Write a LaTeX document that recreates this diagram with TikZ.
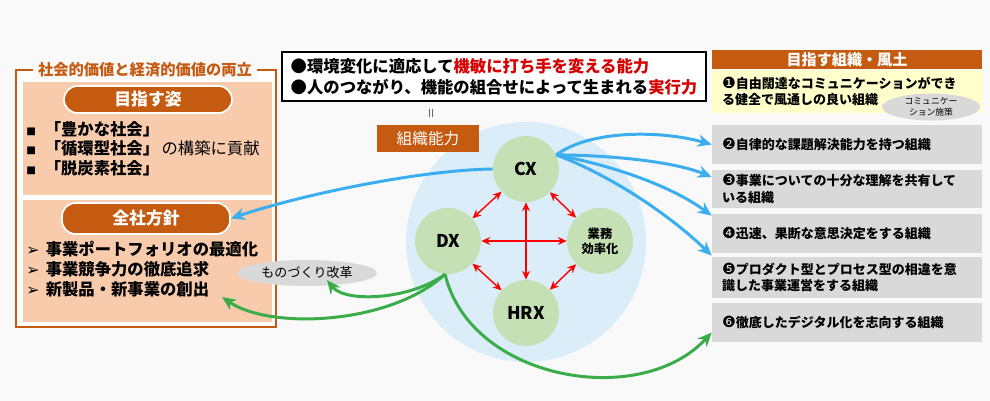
\documentclass[tikz,border=0pt]{standalone}
\usepackage{fontspec}
\setmainfont{Noto Sans CJK JP}
\newfontfamily\dingfont{DejaVu Sans}
\usetikzlibrary{arrows.meta,positioning,calc,shapes.geometric}
\definecolor{paper}{HTML}{F9F9F9}
\definecolor{rust}{HTML}{C55A11}
\definecolor{peach}{HTML}{F8CBAD}
\definecolor{ice}{HTML}{DAEDF8}
\definecolor{leaf}{HTML}{C5E0B4}
\definecolor{sky}{HTML}{3AAEEF}
\definecolor{grass}{HTML}{3AAD4A}
\definecolor{mist}{HTML}{D9D9D9}
\definecolor{cream}{HTML}{FFFFCC}
\definecolor{alert}{HTML}{D60000}
\newcommand{\jsize}[2]{\fontsize{#1}{#2}\selectfont}
\newcommand{\sqmark}{{\jsize{5.5}{6}■}\hspace{5pt}}
\newcommand{\chevmark}{{\dingfont\mdseries\jsize{9}{10}➢}\hspace{3.5pt}}
\newcommand{\num}[1]{{\dingfont\mdseries\jsize{8.8}{9.6}#1}}

\begin{document}
\begin{tikzpicture}[x=0.02cm,y=-0.02cm,>=Stealth,
  pill/.style={fill=rust,draw=white,line width=1pt,rounded corners=0.27cm,minimum width=3.36cm,
    minimum height=0.54cm,inner sep=0pt,text=white,font=\jsize{9.6}{11}\bfseries},
  item/.style={anchor=west,inner sep=0pt,font=\jsize{9.3}{11}\bfseries},
  core/.style={circle,fill=leaf,minimum size=1.32cm,inner sep=0pt,font=\jsize{10}{12}\bfseries},
  orgbox/.style={fill=mist,minimum width=5.4cm,text width=5.0cm,inner xsep=0.2cm,inner ysep=0pt,
    align=left,font=\jsize{7.4}{9.6}\bfseries},
  tag/.style={ellipse,fill=mist,inner sep=0pt},
  redlink/.style={{Stealth[length=5pt,width=4.5pt]}-{Stealth[length=5pt,width=4.5pt]},red,line width=0.8pt},
  bluelink/.style={-{Stealth[length=8pt,width=7pt]},sky,line width=1.7pt},
  greenlink/.style={-{Stealth[length=8pt,width=7pt]},grass,line width=1.7pt}]
  \useasboundingbox[fill=paper] (0,0) rectangle (990,401);

  % left column
  \draw[rust,line width=1.6pt,fill=white] (16,70) rectangle (276,327);
  \node[fill=paper,text=rust,font=\jsize{8.7}{10}\bfseries,inner xsep=3pt,inner ysep=1pt] (goal) at (145,70) {社会的価値と経済的価値の両立};
  \fill[peach] (23,82) rectangle (272,195);
  \fill[peach] (23,200) rectangle (272,322);
  \node[pill] (vision) at (148,99.5) {目指す姿};
  \node[item] (v1) at (26,129) {\sqmark「豊かな社会」};
  \node[item] (v2) at (26,148) {\sqmark「循環型社会」\mdseries\hspace{0.15em}の構築に貢献};
  \node[item] (v3) at (26,168) {\sqmark「脱炭素社会」};
  \node[pill,minimum height=0.62cm] (policy) at (146,218.5) {全社方針};
  \node[item] (p1) at (26,249) {\chevmark 事業ポートフォリオの最適化};
  \node[item] (p2) at (26,269) {\chevmark 事業競争力の徹底追求};
  \node[item] (p3) at (26,289) {\chevmark 新製品・新事業の創出};
  \coordinate (policyend) at (222,297);

  % centre
  \node[draw=black,line width=1.3pt,fill=white,minimum width=8.48cm,minimum height=0.98cm,
    align=left,inner sep=2pt,font=\jsize{9.3}{12}\bfseries] (ability) at (494,76.5)
    {●環境変化に適応して\textcolor{alert}{機敏に打ち手を変える能力}\\●人のつながり、機能の組合せによって生まれる\textcolor{alert}{実行力}};
  \draw[black!60,line width=0.5pt] (429,109) -- (429,117) (432,109) -- (432,117);
  \node[circle,fill=ice,minimum size=4.8cm] (sphere) at (526,242) {};
  \node[fill=rust,text=white,minimum width=2.04cm,minimum height=0.54cm,inner sep=0pt,
    font=\jsize{8.9}{10}] (capab) at (428,139) {組織能力};
  \node[core] (cx) at (526,169) {CX};
  \node[core] (dx) at (448,241) {DX};
  \node[core,align=center,font=\jsize{7}{8.5}\bfseries] (biz) at (600,241) {業務\\効率化};
  \node[core] (hrx) at (526,313) {HRX};
  \draw[redlink] (cx) -- (dx);
  \draw[redlink] (cx) -- (biz);
  \draw[redlink] (dx) -- (hrx);
  \draw[redlink] (biz) -- (hrx);
  \draw[redlink] (dx) -- (biz);
  \draw[redlink] (cx) -- (hrx);
  \node[tag,minimum width=2.8cm,minimum height=0.52cm,font=\jsize{7.4}{9}] (mono) at (307,273) {ものづくり改革};
  \coordinate (monoend) at ($(mono.center)+(20,7)$);

  % right column
  \node[fill=rust,text=white,minimum width=5.4cm,minimum height=0.38cm,inner sep=0pt,
    font=\jsize{8.6}{10}\bfseries] (culture) at (847,59.5) {目指す組織・風土};
  \node[orgbox,fill=cream,minimum height=0.86cm] (o1) at (847,91.5)
    {\num{❶}自由闊達なコミュニケーションができ\\る健全で風通しの良い組織};
  \node[tag,minimum width=1.96cm,minimum height=0.54cm,align=center,font=\jsize{5}{6.5}] (comm) at (931,107) {コミュニケー\\ション施策};
  \node[orgbox,minimum height=0.78cm] (o2) at (847,144.5) {\num{❷}自律的な課題解決能力を持つ組織};
  \node[orgbox,minimum height=0.76cm] (o3) at (847,189) {\num{❸}事業についての十分な理解を共有して\\いる組織};
  \node[orgbox,minimum height=0.78cm] (o4) at (847,233.5) {\num{❹}迅速、果断な意思決定をする組織};
  \node[orgbox,minimum height=0.82cm] (o5) at (847,277.5) {\num{❺}プロダクト型とプロセス型の相違を意\\識した事業運営をする組織};
  \node[orgbox,minimum height=0.78cm] (o6) at (847,322.5) {\num{❻}徹底したデジタル化を志向する組織};

  % connectors
  \draw[bluelink] (cx.west) .. controls (420,170) and (300,195) .. (policy.east);
  \draw[bluelink] (cx.25) .. controls (590,130) and (660,130) .. (o2.west);
  \draw[bluelink] (cx.25) .. controls (600,155) and (670,160) .. ($(o3.west)+(0,-12)$);
  \draw[bluelink] (cx.25) .. controls (610,165) and (670,185) .. ($(o4.north west)+(0,2)$);
  \draw[bluelink] (cx.25) .. controls (610,175) and (670,215) .. ($(o5.north west)+(0,-1)$);
  \draw[greenlink] (dx.265) .. controls (410,300) and (345,303) .. (monoend);
  \draw[greenlink] (dx.265) .. controls (390,325) and (270,330) .. (policyend);
  \draw[greenlink] (dx.265) .. controls (470,380) and (640,410) .. ($(o6.west)+(0,10)$);
\end{tikzpicture}
\end{document}
